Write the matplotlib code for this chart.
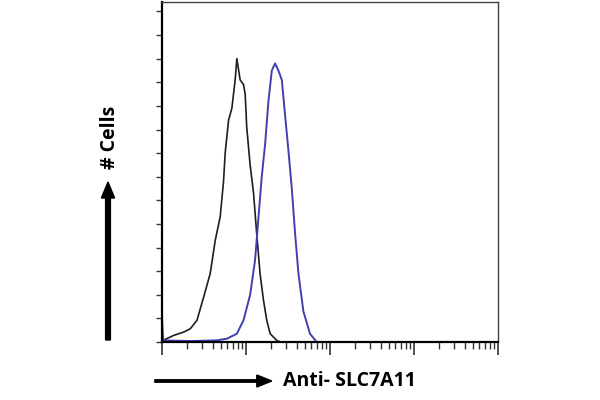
import numpy as np
import matplotlib.pyplot as plt
from matplotlib.ticker import LogLocator, NullFormatter, MultipleLocator

# fluorescence intensity (log axis) and counts
control_x = [1.0, 1.03, 1.38, 1.81, 2.17, 2.61, 3.13, 3.75, 4.30, 4.93, 5.40, 5.65,
             6.20, 6.79, 7.43, 7.78, 8.52, 9.34, 9.78, 10.2, 11.2, 12.3, 13.4,
             14.7, 16.1, 17.7, 19.4, 23.2, 25.5]
control_y = [1.2, 0.07, 0.28, 0.42, 0.56, 0.92, 1.9, 2.9, 4.3, 5.3, 6.8, 8.0,
             9.4, 9.9, 11.1, 12.0, 11.1, 10.9, 10.5, 9.1, 7.5, 6.3, 4.6,
             2.9, 1.8, 0.9, 0.35, 0.07, 0.0]

antibody_x = [1.0, 2.17, 4.5, 5.92, 7.78, 9.34, 11.2, 12.8, 14.1, 15.4, 16.9, 18.5,
              20.3, 22.2, 24.3, 26.7, 29.2, 32.0, 35.1, 38.4, 42.1, 48.2, 57.8, 69.5]
antibody_y = [0.07, 0.04, 0.07, 0.14, 0.35, 0.92, 2.0, 3.45, 5.3, 7.0, 8.4, 10.2,
              11.5, 11.8, 11.5, 11.1, 9.6, 8.1, 6.5, 4.6, 2.9, 1.3, 0.35, 0.0]

xlabel = "Anti- SLC7A11"
ylabel = "# Cells"

fig = plt.figure(figsize=(6, 4), dpi=100)
ax = fig.add_axes([0.27, 0.145, 0.56, 0.85])

ax.plot(control_x, control_y, color='#1e1e1e', lw=1.2)
ax.plot(antibody_x, antibody_y, color='#4040b0', lw=1.4)

ax.set_xscale('log')
ax.set_xlim(1, 1e4)
ax.set_ylim(0, 14.4)

ax.xaxis.set_major_locator(LogLocator(base=10))
ax.xaxis.set_minor_locator(LogLocator(base=10, subs=np.arange(2, 10)))
ax.xaxis.set_major_formatter(NullFormatter())
ax.xaxis.set_minor_formatter(NullFormatter())
ax.yaxis.set_major_locator(MultipleLocator(1))
ax.set_yticklabels([])

ax.tick_params(axis='x', which='major', direction='out', length=9, width=1.2, color='#333333')
ax.tick_params(axis='x', which='minor', direction='out', length=5, width=1.0, color='#333333')
ax.tick_params(axis='y', direction='out', length=4, width=1.0, color='#333333')

for s in ['left', 'bottom']:
    ax.spines[s].set_linewidth(1.6)
for s in ['top', 'right']:
    ax.spines[s].set_linewidth(1.0)
    ax.spines[s].set_color('#444444')

# axis labels with arrows, as in the cytometry export
fig.text(0.4717, 0.0475, xlabel, fontsize=14, fontweight='bold',
         family='Open Sans', va='center', ha='left')
fig.text(0.183, 0.6575, ylabel, fontsize=14, fontweight='bold',
         family='Open Sans', va='center', ha='center', rotation=90)
fig.patches.append(plt.matplotlib.patches.FancyArrow(
    0.258, 0.0475, 0.195, 0, width=0.006, head_width=0.03, head_length=0.025,
    length_includes_head=True, transform=fig.transFigure, color='black'))
fig.patches.append(plt.matplotlib.patches.FancyArrow(
    0.18, 0.15, 0, 0.395, width=0.008, head_width=0.022, head_length=0.04,
    length_includes_head=True, transform=fig.transFigure, color='black'))

plt.savefig('out.png', dpi=100)
